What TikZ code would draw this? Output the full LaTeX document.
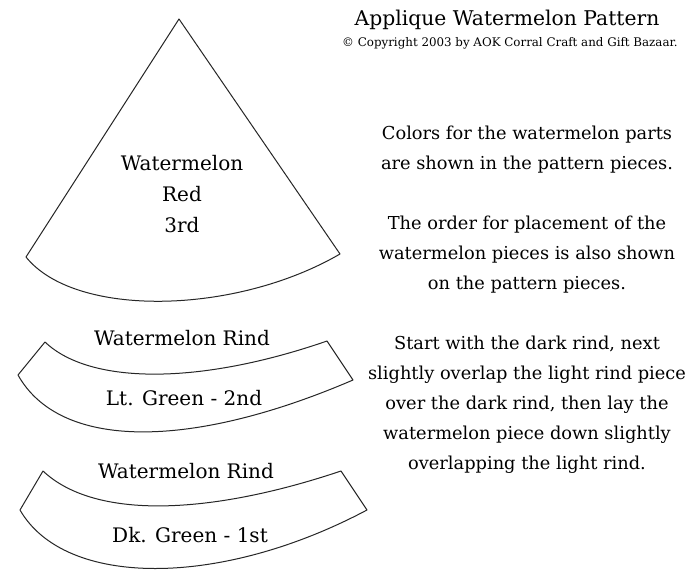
\documentclass[tikz,border=0pt]{standalone}
\usepackage{fontspec}
\setmainfont{DejaVu Serif}
\tikzset{
  piece/.style={draw=black!85, line width=1pt, line join=round, fill=white},
  lbl/.style={font=\fontsize{20}{31}\selectfont, align=center, inner sep=0pt},
  para/.style={font=\fontsize{17.8}{30}\selectfont, align=center, inner sep=0pt},
}
\begin{document}
\begin{tikzpicture}[x=1pt,y=-1pt]
\useasboundingbox[fill=white] (0,0) rectangle (700,586);
% watermelon wedge
\draw[piece] (179,19) -- (340,254) .. controls (235,315) and (75,318) .. (26,257) -- cycle;
% light rind
\draw[piece] (45,342) .. controls (90,385) and (200,385) .. (327,341) -- (353,380)
  .. controls (190,450) and (60,450) .. (18,375) -- cycle;
% dark rind
\draw[piece] (43,471) .. controls (95,520) and (210,515) .. (341,471) -- (367,510)
  .. controls (220,588) and (65,588) .. (20,510) -- cycle;
% labels
\node[lbl] (red) at (182,194) {Watermelon\\Red\\3rd};
\node[lbl] (rind1) at (182,338) {Watermelon Rind};
\node[lbl] (lt) at (184,398) {Lt. Green - 2nd};
\node[lbl] (rind2) at (186,471) {Watermelon Rind};
\node[lbl] (dk) at (190,535) {Dk. Green - 1st};
% title
\node[inner sep=0pt, font=\fontsize{20.3}{24}\selectfont] (title) at (507,20) {Applique Watermelon Pattern};
\node[inner sep=0pt, font=\fontsize{11.85}{14}\selectfont] (copy) at (510,43) {© Copyright 2003 by AOK Corral Craft and Gift Bazaar.};
% paragraphs
\node[para] (p1) at (527,150) {Colors for the watermelon parts\\are shown in the pattern pieces.};
\node[para] (p2) at (527,255) {The order for placement of the\\watermelon pieces is also shown\\on the pattern pieces.};
\node[para] (p3) at (527,405) {Start with the dark rind, next\\slightly overlap the light rind piece\\over the dark rind, then lay the\\watermelon piece down slightly\\overlapping the light rind.};
\end{tikzpicture}
\end{document}
